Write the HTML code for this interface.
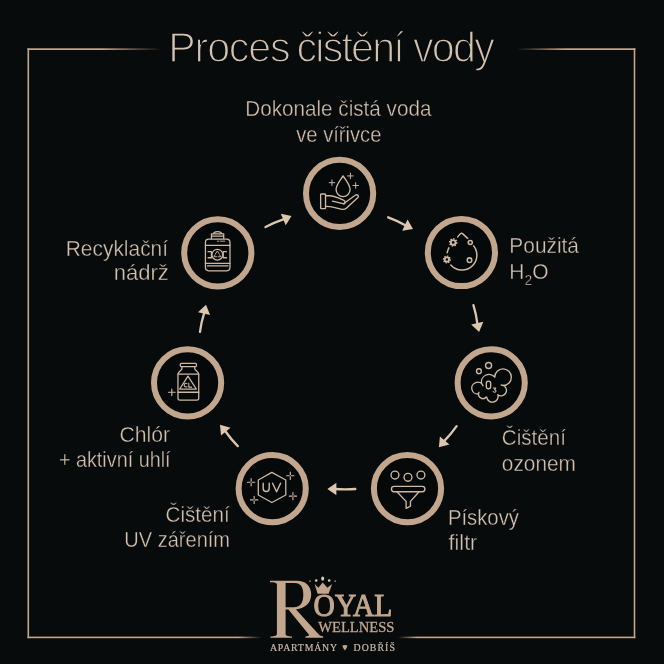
<!DOCTYPE html>
<html><head><meta charset="utf-8">
<style>
html,body{margin:0;padding:0;background:#080b0c;width:664px;height:664px;overflow:hidden}
svg{display:block;will-change:transform}
.t{font-family:"Liberation Sans",sans-serif;fill:#d4c2b0}
.lbl{font-size:21.5px;stroke:#080b0c;stroke-width:0.35px}
.ttl{font-size:43.4px;stroke:#080b0c;stroke-width:1.5px}
.ring{fill:#06090a;stroke:#c2a68d;stroke-width:6}
.ic{fill:none;stroke:#c8b09a;stroke-width:1.6;stroke-linecap:round;stroke-linejoin:round}
.arr{fill:none;stroke:#dcc6b0;stroke-width:2.3;stroke-linecap:round}
.ah{fill:#dcc6b0}
.ic2{fill:none;stroke:#cdb8a4;stroke-width:18;stroke-linecap:round;stroke-linejoin:round}
</style></head>
<body>
<svg width="664" height="664" viewBox="0 0 664 664">
<defs>
<linearGradient id="gTL" x1="28" y1="0" x2="162" y2="0" gradientUnits="userSpaceOnUse">
<stop offset="0" stop-color="#c2a68d"/><stop offset="0.55" stop-color="#c2a68d"/><stop offset="1" stop-color="#c2a68d" stop-opacity="0"/></linearGradient>
<linearGradient id="gTR" x1="517" y1="0" x2="634" y2="0" gradientUnits="userSpaceOnUse">
<stop offset="0" stop-color="#c2a68d" stop-opacity="0"/><stop offset="0.42" stop-color="#c2a68d"/><stop offset="1" stop-color="#c2a68d"/></linearGradient>
<linearGradient id="gBL" x1="28" y1="0" x2="262" y2="0" gradientUnits="userSpaceOnUse">
<stop offset="0" stop-color="#c2a68d"/><stop offset="0.9" stop-color="#c2a68d"/><stop offset="1" stop-color="#c2a68d" stop-opacity="0"/></linearGradient>
<linearGradient id="gBR" x1="398" y1="0" x2="634" y2="0" gradientUnits="userSpaceOnUse">
<stop offset="0" stop-color="#c2a68d" stop-opacity="0"/><stop offset="0.08" stop-color="#c2a68d"/><stop offset="1" stop-color="#c2a68d"/></linearGradient>
</defs>
<!-- frame -->
<rect x="27.5" y="48.3" width="1.6" height="589.9" fill="#c2a68d"/>
<rect x="633.7" y="48.3" width="1.6" height="589.9" fill="#c2a68d"/>
<rect x="27.5" y="48.3" width="135" height="1.7" fill="url(#gTL)"/>
<rect x="517" y="48.3" width="118.3" height="1.7" fill="url(#gTR)"/>
<rect x="27.5" y="636.6" width="235" height="1.6" fill="url(#gBL)"/>
<rect x="398" y="636.6" width="237.3" height="1.6" fill="url(#gBR)"/>

<!-- title -->
<g class="t ttl">
<text transform="translate(168.3,0) scale(0.95,1)" x="0" y="62.0" letter-spacing="-1.25">Proces</text>
<text transform="translate(296.5,0) scale(0.95,1)" x="0" y="62.0" letter-spacing="-1.9">čištění</text>
<text transform="translate(413,0) scale(0.95,1)" x="0" y="62.0" letter-spacing="-1.85">vody</text>
</g>

<!-- labels -->
<g class="t lbl">
<text transform="translate(245.28,0) scale(0.9623,1)" x="0" y="116.1">Dokonale čistá voda</text>
<text transform="translate(296.26,0) scale(0.9382,1)" x="0" y="141.7">ve vířivce</text>
<text transform="translate(509.36,0) scale(0.9710,1)" x="0" y="253.2">Použitá</text>
<text transform="translate(509.35,0) scale(0.9757,1)" x="0" y="278.8">H<tspan font-size="14.19" dy="6">2</tspan><tspan dy="-6">O</tspan></text>
<text transform="translate(501.84,0) scale(0.9569,1)" x="0" y="445.0">Čištění</text>
<text transform="translate(501.83,0) scale(0.9689,1)" x="0" y="470.8">ozonem</text>
<text transform="translate(447.91,0) scale(0.9438,1)" x="0" y="524.6">Pískový</text>
<text transform="translate(448.60,0) scale(1.0000,1)" x="0" y="550.4">filtr</text>
<text transform="translate(165.54,0) scale(0.9600,1)" x="0" y="522.3">Čištění</text>
<text transform="translate(124.34,0) scale(0.9318,1)" x="0" y="547.5">UV zářením</text>
<text transform="translate(119.51,0) scale(0.9860,1)" x="0" y="441.6">Chlór</text>
<text transform="translate(58.88,0) scale(0.9210,1)" x="0" y="467.1">+ aktivní uhlí</text>
<text transform="translate(65.75,0) scale(0.9735,1)" x="0" y="255.8">Recyklační</text>
<text transform="translate(113.65,0) scale(1.0260,1)" x="0" y="280.2">nádrž</text>
</g>

<!-- rings -->
<g class="ring">
<circle cx="339.6" cy="193.4" r="33.6"/>
<circle cx="461.4" cy="252.5" r="33.6"/>
<circle cx="491.2" cy="382.8" r="33.6"/>
<circle cx="407.5" cy="488.6" r="33.6"/>
<circle cx="272.2" cy="488.6" r="33.6"/>
<circle cx="187.6" cy="382.8" r="33.6"/>
<circle cx="217.8" cy="252.8" r="33.6"/>
</g>

<!-- arrows -->
<g id="arrows">
<path class="arr" d="M265.5,227.1 Q274.0,222.5 284.6,218.9"/>
<path class="ah" d="M291.5,216.0 L280.8,213.8 L285.7,225.2 Z"/>
<path class="arr" d="M388.2,217.3 Q396.9,220.4 406.2,225.8"/>
<path class="ah" d="M413.0,229.0 L407.5,219.6 L402.2,230.8 Z"/>
<path class="arr" d="M473.4,305.2 Q476.2,314.0 477.5,324.6"/>
<path class="ah" d="M479.1,331.9 L483.3,321.8 L471.2,324.4 Z"/>
<path class="arr" d="M456.6,426.2 Q451.3,433.9 443.7,441.6"/>
<path class="ah" d="M438.9,447.3 L449.4,444.4 L439.9,436.4 Z"/>
<path class="arr" d="M355.3,489.0 Q345.9,489.9 334.9,489.0"/>
<path class="ah" d="M327.4,489.0 L336.4,495.2 L336.4,482.8 Z"/>
<path class="arr" d="M237.8,446.1 Q231.1,439.4 224.8,430.5"/>
<path class="ah" d="M220.0,424.7 L221.0,435.6 L230.5,427.7 Z"/>
<path class="arr" d="M200.0,331.9 Q201.1,322.5 204.4,312.1"/>
<path class="ah" d="M206.0,304.8 L198.0,312.2 L210.1,314.9 Z"/>
</g>

<!-- icons -->
<g id="icons">
<g transform="translate(315,168) scale(0.07530)"><g class="ic2"><path d="M373,105 C340,160 280,225 280,287 A93,93 0 0 0 466,287 C466,225 406,160 373,105 Z"/><path stroke-width="13" d="M188,195L262,195M225,158L225,232 M433,105L507,105M470,68L470,142 M503,232L577,232M540,195L540,269"/><rect x="75" y="345" width="65" height="195" rx="10"/><path d="M140,368 L200,368 C240,368 270,382 300,395 L378,428 C410,442 408,482 372,474 L232,440"/><path d="M378,474 L535,362 C562,342 592,372 566,396 L420,530 C400,548 375,553 345,546 L250,522 C215,512 175,510 140,510"/></g></g>
<g transform="translate(436,227) scale(0.07530)"><g class="ic2" style="stroke-width:20"><path d="M215,225 C260,170 300,110 325,90 Q340,78 355,90 C385,115 440,160 480,230 A198,198 0 1 1 215,225 Z"/><circle cx="228" cy="205" r="86" fill="#080b0c" stroke="none"/><circle cx="228" cy="205" r="31" stroke-width="24"/><path stroke-width="20" stroke-linecap="butt" d="M264.5,212.4L283.9,216.3M248.6,236.0L259.5,252.5M220.6,241.5L216.7,260.9M197.0,225.6L180.5,236.5M191.5,197.6L172.1,193.7M207.4,174.0L196.5,157.5M235.4,168.5L239.3,149.1M259.0,184.4L275.5,173.5"/><circle cx="145" cy="432" r="82" fill="#080b0c" stroke="none"/><circle cx="145" cy="432" r="29" stroke-width="24"/><path stroke-width="20" stroke-linecap="butt" d="M179.1,438.9L197.3,442.6M164.2,461.0L174.5,476.5M138.1,466.1L134.4,484.3M116.0,451.2L100.5,461.5M110.9,425.1L92.7,421.4M125.8,403.0L115.5,387.5M151.9,397.9L155.6,379.7M174.0,412.8L189.5,402.5"/><circle cx="455" cy="205" r="54" fill="#080b0c" stroke="none"/><circle cx="455" cy="205" r="27"/><circle cx="445" cy="440" r="0" fill="#080b0c" stroke="none"/><circle cx="445" cy="440" r="30"/></g></g>
<g transform="translate(466,358) scale(0.07530)"><g class="ic2"><circle cx="300" cy="100" r="40"/><circle cx="172" cy="175" r="32"/><path d="M382.0,254.0A110,110 0 1 1 494.9,365.0M208.2,343.0A100,100 0 0 1 382.2,254.4M167.2,477.0A78,78 0 1 1 226.0,367.7M269.4,517.3A58,58 0 0 1 172.4,455.5M422.7,487.8A76,76 0 1 1 274.7,519.9M468.1,358.1A72,72 0 1 1 422.7,488.2"/><rect x="270" y="308" width="58" height="100" rx="29"/><path stroke-width="14" d="M362,398 L396,398 L378,420 C402,420 406,452 381,454 C369,455 362,450 360,444"/></g></g>
<g transform="translate(382,463) scale(0.07530)"><g class="ic2"><circle cx="172" cy="160" r="52"/><circle cx="345" cy="190" r="52"/><circle cx="517" cy="160" r="52"/><rect x="125" y="310" width="445" height="72" rx="36"/><path d="M198,382 L320,510 L320,602 L378,574 L378,510 L492,382"/></g></g>
<g transform="translate(247,463) scale(0.07530)"><g class="ic2" style="stroke-width:17"><path d="M330,125 L515,225 L515,425 L330,525 L150,425 L150,225 Z"/><path stroke-width="19" d="M215,268 L215,335 C215,392 295,392 295,335 L295,268"/><path stroke-width="19" d="M340,268 L393,382 L446,268"/><path stroke-width="15" d="M7,255L41,255M69,255L103,255M55,207L55,241M55,269L55,303 M527,170L561,170M589,170L623,170M575,122L575,156M575,184L575,218 M47,490L81,490M109,490L143,490M95,442L95,476M95,504L95,538 M562,440L596,440M624,440L658,440M610,392L610,426M610,454L610,488"/></g></g>
<g transform="translate(162,358) scale(0.07530)"><g class="ic2" style="stroke-width:17"><rect x="243" y="70" width="215" height="45" rx="14"/><path d="M265,115 L265,140 C265,168 212,180 212,215 L212,535 C212,550 225,560 240,560 L460,560 C475,560 488,550 488,535 L488,215 C488,180 435,168 435,140 L435,115"/><path d="M212,215 L488,215 M212,455 L488,455"/><path d="M345,240 L455,412 L235,412 Z"/><path stroke-width="14" d="M332,341 A23,25 0 1 0 332,379 M356,334 L356,387 L394,387"/><path stroke-width="15" d="M86,455L174,455M130,411L130,499"/></g></g>
<g transform="translate(193,228) scale(0.07530)"><g class="ic2" style="stroke-width:17"><path d="M245,140 L245,78 L408,78 L408,140 M245,108 L408,108 M275,78 C275,40 378,40 378,78"/><rect x="165" y="148" width="326" height="420" rx="42"/><path d="M165,230 L490,230 M165,470 L490,470 M190,503 L465,503"/><path stroke-width="12" d="M323,175 L345,175 M365,175 L420,175"/><circle cx="323" cy="355" r="72"/><path d="M200,315 L245,315 L245,395 L200,395 M445,315 L401,315 L401,395 L445,395"/><path stroke-width="12" d="M300,340 L323,305 L346,340 M352,355 L368,382 L333,382 M313,382 L278,382 L294,355"/></g></g>
</g>

<!-- logo -->
<g id="logo" fill="#c2a68d" stroke="#c2a68d" font-family="Liberation Serif"><path stroke="none" fill-rule="evenodd" d="M270,580.8 L297,580.8 C305.5,580.8 311.2,586 311.2,594.6 C311.2,602.5 305.5,608.6 296,609.4 L318.8,634.6 C319.8,635.7 321,636.2 323.2,636.4 L323.2,637.8 L305.5,637.8 L305.5,636.4 C308.5,636.3 309.6,635.6 308.8,634.6 L288.4,609.6 L285.6,609.6 L285.6,634 C285.6,635.8 287.5,636.3 292,636.5 L292,637.8 L270.4,637.8 L270.4,636.5 C275,636.3 276.9,635.8 276.9,634 L276.9,584.6 C276.9,582.8 275,582.4 270,582.2 Z M285.6,583.1 L294.5,583.1 C300.8,583.1 303.3,587.5 303.3,594.8 C303.3,601.8 300.8,607.3 293.6,607.3 L285.6,607.3 Z"/><text x="313.6" y="615.6" font-size="30.5" stroke-width="1.0" textLength="78.6" lengthAdjust="spacingAndGlyphs">OYAL</text><text x="318.2" y="631.5" font-size="14.6" stroke-width="0.3" letter-spacing="0">WELLNESS</text><text x="270" y="651.4" font-size="9.8" fill="#cbb9a6" stroke="#cbb9a6" stroke-width="0.2" letter-spacing="0.8">APARTMÁNY</text><text x="353.5" y="651.4" font-size="9.8" fill="#cbb9a6" stroke="#cbb9a6" stroke-width="0.2" letter-spacing="1.1">DOBŘÍŠ</text><path stroke="none" d="M342.3,645.6 Q344.9,644.4 347.5,645.6 Q347.2,647.8 344.9,650.4 Q342.6,647.8 342.3,645.6 Z"/><path stroke="none" d="M314.6,584 L317.6,593.8 L328.6,593.8 L332.2,584 L327.4,587.8 L322.7,582.4 L318.4,587.8 Z"/><g stroke="none" fill="#d6cabd"><ellipse cx="322.7" cy="578.6" rx="1.5" ry="2.2"/><circle cx="316.2" cy="580.5" r="1.3"/><circle cx="329.2" cy="580.5" r="1.3"/><circle cx="310" cy="581.2" r="0.9" opacity="0.6"/><circle cx="335.2" cy="581.2" r="0.9" opacity="0.6"/></g></g>
</svg>
</body></html>
